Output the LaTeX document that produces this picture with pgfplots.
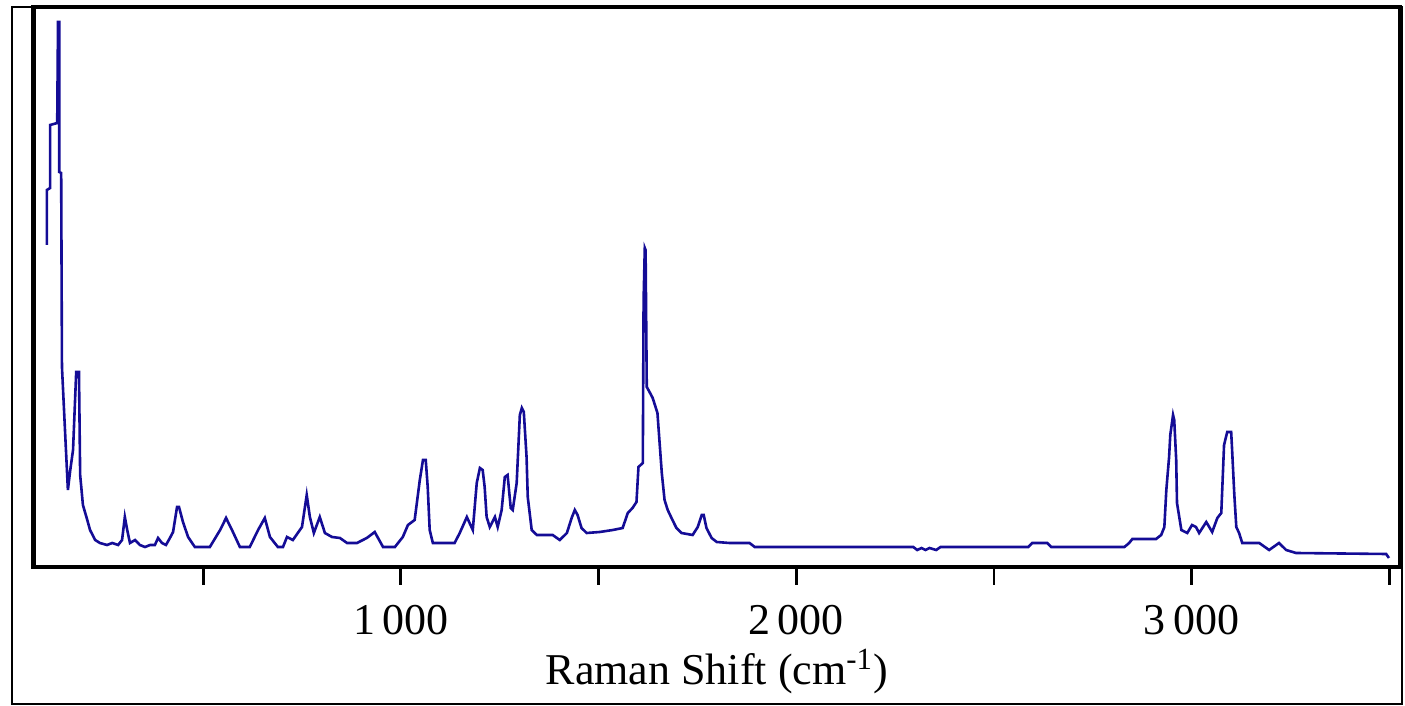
\documentclass[border=0pt]{standalone}
\usepackage{pgfplots}
\pgfplotsset{compat=1.18}
\usepackage{fontspec}
\setmainfont{Liberation Serif}
\definecolor{spec}{RGB}{20,12,150}
\begin{document}
\begin{tikzpicture}
\useasboundingbox (-16.75pt,-69.5pt) rectangle (685.75pt,283.5pt);
\draw[line width=1pt,black] (-10.75pt,-68.5pt) rectangle (684.25pt,280pt);
\begin{axis}[
  at={(0pt,0pt)}, anchor=south west,
  width=683.25pt, height=280pt, scale only axis,
  xmin=71, xmax=3527, ymin=0, ymax=560,
  ytick=\empty,
  xtick={500,1000,1500,2000,2500,3000,3500},
  xticklabels={,1\,000,,2\,000,,3\,000,},
  xtick pos=bottom, xtick align=outside,
  major tick length=9pt,
  every tick/.style={black, line width=1.4pt},
  axis line style={line width=2.2pt, black},
  ticklabel style={font=\fontsize{22}{26}\selectfont},
  xticklabel style={anchor=base, yshift=-25pt},
  xlabel={Raman Shift (cm\textsuperscript{-1})},
  xlabel style={font=\fontsize{22}{26}\selectfont, at={(axis description cs:0.5,0)}, anchor=base, yshift=-59pt},
  clip=false,
]
\addplot[spec, line width=1.3pt] coordinates {
(105,322) (105,377) (113,379) (113,442) (131,444) (133,545) (136,545) (136,395) (141,394) (143,200) (151,134) (158,77) (164,97) (171,117) (179,195) (186,195) (189,92) (196,62) (207,47) (214,37) (227,27) (239,24)
(257,22) (270,24) (285,22) (295,27) (302,50) (308,37) (315,24) (328,27) (340,22) (353,20) (366,22) (378,22) (386,29) (396,24) (406,22) (416,29) (424,35) (434,60) (439,60) (449,45) (462,30) (479,20) (517,20) (543,37) (558,49) (573,37) (593,20) (618,20) (639,37) (656,49) (669,30) (689,20) (702,20) (712,30) (727,27) (750,40) (762,72) (770,50) (780,34) (795,50) (808,34) (826,30) (846,29) (864,24) (889,24) (914,29) (934,35) (955,20) (985,20) (1005,30) (1018,42) (1035,47) (1048,87) (1056,107) (1063,107) (1068,80) (1073,37) (1081,24) (1136,24) (1149,34) (1167,50) (1182,37) (1192,84) (1200,99) (1207,97) (1212,80) (1217,50) (1225,40) (1238,50) (1245,40) (1255,57) (1263,90) (1270,92) (1278,59) (1283,57) (1293,84) (1301,152) (1306,159) (1311,155) (1318,110) (1321,70) (1331,37) (1344,32) (1384,32) (1402,27) (1420,34) (1432,49) (1440,57) (1447,52) (1457,39) (1470,34) (1503,35) (1536,37) (1561,39) (1574,54) (1586,59) (1596,65) (1601,100) (1612,104) (1614,267) (1617,319) (1619,317) (1622,180) (1629,175) (1637,169) (1649,154) (1660,94) (1667,67) (1675,57) (1687,47) (1697,39) (1710,34) (1738,32) (1751,40) (1761,52) (1766,52) (1773,39) (1786,29) (1799,25) (1831,24) (1882,24) (1895,20) (2296,20) (2306,17) (2317,19) (2327,17) (2337,19) (2354,17) (2365,20) (2587,20) (2597,24) (2635,24) (2645,20) (2830,20) (2842,24) (2850,28) (2910,28) (2923,32) (2931,40) (2936,77) (2943,110) (2946,132) (2953,152) (2956,147) (2961,107) (2963,64) (2974,37) (2989,34) (3001,42) (3011,40) (3019,34) (3037,45) (3052,35) (3065,49) (3075,54) (3082,122) (3090,135) (3100,135) (3102,120) (3108,72) (3113,40) (3120,34) (3128,24) (3171,24) (3196,17) (3221,24) (3239,17) (3264,14) (3492,13) (3499,9)
};
\end{axis}
\end{tikzpicture}
\end{document}
